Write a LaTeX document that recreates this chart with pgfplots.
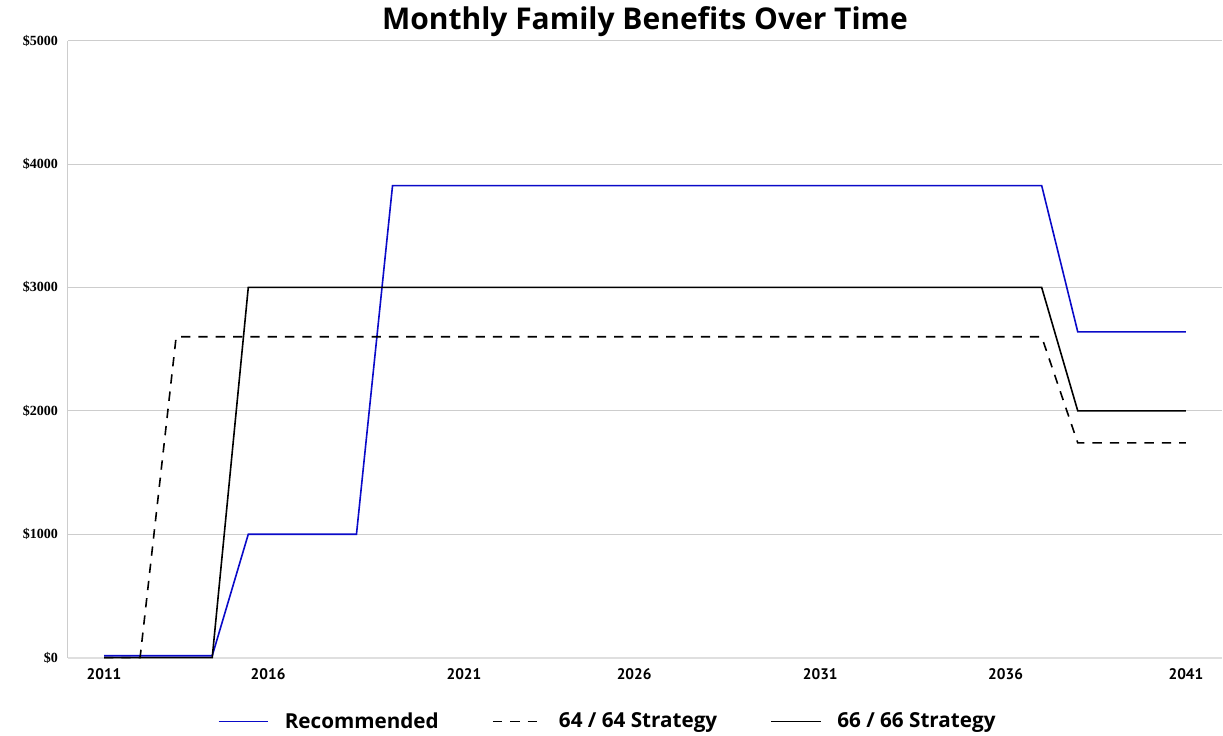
\documentclass[border=0pt]{standalone}
\usepackage{pgfplots}
\pgfplotsset{compat=1.18}
\usepackage{fontspec}
\setmainfont{Open Sans}
\newfontfamily\serifb{Liberation Serif}
\newfontfamily\tickf{PT Sans}
\definecolor{recblue}{RGB}{10,10,200}
\definecolor{gridgray}{RGB}{205,205,205}
\begin{document}
\begin{tikzpicture}
\pgfplotstableread{
x y
2011 15
2014 15
2015 1000
2018 1000
2019 3825
2037 3825
2038 2640
2041 2640
}\rec
\pgfplotstableread{
x y
2011 0
2012 0
2013 2600
2037 2600
2038 1740
2041 1740
}\sixfour
\pgfplotstableread{
x y
2011 0
2014 0
2015 3000
2037 3000
2038 2000
2041 2000
}\sixsix
\begin{axis}[
  at={(0,0)}, anchor=south west,
  scale only axis, width=866pt, height=463pt,
  xmin=2010, xmax=2042, ymin=0, ymax=5000,
  axis x line*=bottom, axis y line*=left,
  axis line style={-, gridgray, line width=0.8pt},
  x axis line style={line width=1.5pt, color=gray!25},
  ymajorgrids, grid style={gridgray, line width=0.6pt},
  ytick={0,1000,2000,3000,4000,5000},
  yticklabels={\$0,\$1000,\$2000,\$3000,\$4000,\$5000},
  xtick={2011,2015.55,2020.98,2025.7,2030.86,2036,2041},
  xticklabels={2011,2016,2021,2026,2031,2036,2041},
  major tick length=0pt,
  yticklabel style={font=\serifb\bfseries\fontsize{10.5}{12}\selectfont, xshift=-4pt},
  xticklabel style={font=\tickf\bfseries\fontsize{11.5}{13}\selectfont, yshift=-5pt},
  legend columns=3,
  legend style={at={(0.468,-0.08)}, anchor=north, draw=none, fill=none,
    font=\bfseries\fontsize{15.5}{18}\selectfont,
    /tikz/every even column/.append style={column sep=38pt}},
  legend image code/.code={\draw[#1] (0pt,0pt) -- (37pt,0pt); \path (47pt,0pt);},
  clip=false,
]
\addplot[recblue, line width=1.2pt] table {\rec};
\addlegendentry{Recommended}
\addplot[black, line width=1.2pt, dash pattern=on 7pt off 6pt] table {\sixfour};
\addlegendentry{64 / 64 Strategy}
\addplot[black, line width=1.2pt] table {\sixsix};
\addlegendentry{66 / 66 Strategy}
\node[font=\bfseries\fontsize{22.5}{26}\selectfont, anchor=base] at (rel axis cs:0.5,1) [yshift=8pt] {Monthly Family Benefits Over Time};
\end{axis}
\useasboundingbox (-51pt,-57.75pt) rectangle (866.25pt,493.5pt);
\end{tikzpicture}
\end{document}
